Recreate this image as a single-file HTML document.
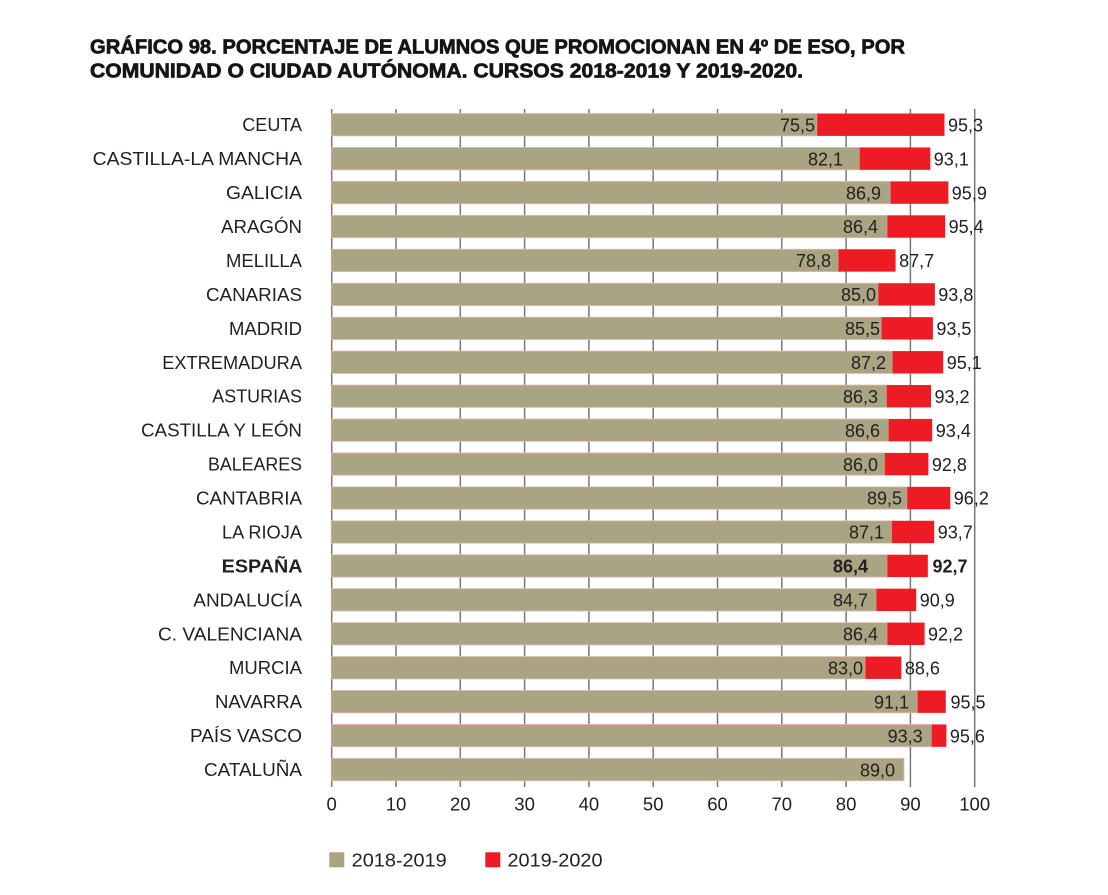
<!DOCTYPE html>
<html><head><meta charset="utf-8">
<style>
html,body{margin:0;padding:0;background:#fff;}
svg{display:block;}
text{font-family:"Liberation Sans",Arial,sans-serif;fill:#231f20;}
.t{font-weight:bold;font-size:20px;fill:#151515;stroke:#151515;stroke-width:0.7;}
.c{font-size:18.5px;text-anchor:end;}
.v{font-size:18px;}
.ve{font-size:18px;text-anchor:end;}
.k{font-size:18.5px;text-anchor:middle;}
.o{fill:#a9a583;stroke:#e9b9b3;stroke-width:0.8;}
.r{fill:#ed1c24;}
.g{stroke:#777;stroke-width:1.5;}
</style></head>
<body>
<svg width="1108" height="895" viewBox="0 0 1108 895" xmlns="http://www.w3.org/2000/svg">
<text class="t" x="90" y="53.5" textLength="815" lengthAdjust="spacingAndGlyphs">GRÁFICO 98. PORCENTAJE DE ALUMNOS QUE PROMOCIONAN EN 4º DE ESO, POR</text>
<text class="t" x="90" y="77.5" textLength="713" lengthAdjust="spacingAndGlyphs">COMUNIDAD O CIUDAD AUTÓNOMA. CURSOS 2018-2019 Y 2019-2020.</text>

<g class="g">
<line x1="331.7" y1="109" x2="331.7" y2="787"/>
<line x1="396" y1="109" x2="396" y2="787"/>
<line x1="460.3" y1="109" x2="460.3" y2="787"/>
<line x1="524.6" y1="109" x2="524.6" y2="787"/>
<line x1="588.9" y1="109" x2="588.9" y2="787"/>
<line x1="653.2" y1="109" x2="653.2" y2="787"/>
<line x1="717.5" y1="109" x2="717.5" y2="787"/>
<line x1="781.8" y1="109" x2="781.8" y2="787"/>
<line x1="846.1" y1="109" x2="846.1" y2="787"/>
<line x1="910.4" y1="109" x2="910.4" y2="787"/>
<line x1="974.7" y1="109" x2="974.7" y2="787"/>
</g>

<g>
<text class="k" x="331.7" y="810.5">0</text>
<text class="k" x="396" y="810.5">10</text>
<text class="k" x="460.3" y="810.5">20</text>
<text class="k" x="524.6" y="810.5">30</text>
<text class="k" x="588.9" y="810.5">40</text>
<text class="k" x="653.2" y="810.5">50</text>
<text class="k" x="717.5" y="810.5">60</text>
<text class="k" x="781.8" y="810.5">70</text>
<text class="k" x="846.1" y="810.5">80</text>
<text class="k" x="910.4" y="810.5">90</text>
<text class="k" x="974.7" y="810.5">100</text>
</g>

<g>
<rect class="o" x="331.7" y="113.5" width="485.5" height="22.4"/><rect class="r" x="817.2" y="113.5" width="127.3" height="22.4"/>
<rect class="o" x="331.7" y="147.44" width="527.9" height="22.4"/><rect class="r" x="859.6" y="147.44" width="70.7" height="22.4"/>
<rect class="o" x="331.7" y="181.38" width="558.8" height="22.4"/><rect class="r" x="890.5" y="181.38" width="57.9" height="22.4"/>
<rect class="o" x="331.7" y="215.32" width="555.6" height="22.4"/><rect class="r" x="887.3" y="215.32" width="57.9" height="22.4"/>
<rect class="o" x="331.7" y="249.26" width="506.7" height="22.4"/><rect class="r" x="838.4" y="249.26" width="57.2" height="22.4"/>
<rect class="o" x="331.7" y="283.2" width="546.6" height="22.4"/><rect class="r" x="878.3" y="283.2" width="56.6" height="22.4"/>
<rect class="o" x="331.7" y="317.14" width="549.8" height="22.4"/><rect class="r" x="881.5" y="317.14" width="51.4" height="22.4"/>
<rect class="o" x="331.7" y="351.08" width="560.7" height="22.4"/><rect class="r" x="892.4" y="351.08" width="50.8" height="22.4"/>
<rect class="o" x="331.7" y="385.02" width="554.9" height="22.4"/><rect class="r" x="886.6" y="385.02" width="44.4" height="22.4"/>
<rect class="o" x="331.7" y="418.96" width="556.8" height="22.4"/><rect class="r" x="888.5" y="418.96" width="43.7" height="22.4"/>
<rect class="o" x="331.7" y="452.9" width="553.0" height="22.4"/><rect class="r" x="884.7" y="452.9" width="43.7" height="22.4"/>
<rect class="o" x="331.7" y="486.84" width="575.5" height="22.4"/><rect class="r" x="907.2" y="486.84" width="43.1" height="22.4"/>
<rect class="o" x="331.7" y="520.78" width="560.1" height="22.4"/><rect class="r" x="891.8" y="520.78" width="42.4" height="22.4"/>
<rect class="o" x="331.7" y="554.72" width="555.6" height="22.4"/><rect class="r" x="887.3" y="554.72" width="40.5" height="22.4"/>
<rect class="o" x="331.7" y="588.66" width="544.6" height="22.4"/><rect class="r" x="876.3" y="588.66" width="39.9" height="22.4"/>
<rect class="o" x="331.7" y="622.6" width="555.6" height="22.4"/><rect class="r" x="887.3" y="622.6" width="37.3" height="22.4"/>
<rect class="o" x="331.7" y="656.54" width="533.7" height="22.4"/><rect class="r" x="865.4" y="656.54" width="36.0" height="22.4"/>
<rect class="o" x="331.7" y="690.48" width="585.8" height="22.4"/><rect class="r" x="917.5" y="690.48" width="28.3" height="22.4"/>
<rect class="o" x="331.7" y="724.42" width="599.9" height="22.4"/><rect class="r" x="931.6" y="724.42" width="14.8" height="22.4"/>
<rect class="o" x="331.7" y="758.36" width="572.3" height="22.4"/>
</g>

<g>
<text class="c" x="302" y="131.2" textLength="59.7" lengthAdjust="spacingAndGlyphs">CEUTA</text>
<text class="c" x="302" y="165.14" textLength="209.3" lengthAdjust="spacingAndGlyphs">CASTILLA-LA MANCHA</text>
<text class="c" x="302" y="199.08" textLength="76" lengthAdjust="spacingAndGlyphs">GALICIA</text>
<text class="c" x="302" y="233.02" textLength="81" lengthAdjust="spacingAndGlyphs">ARAGÓN</text>
<text class="c" x="302" y="266.96" textLength="76" lengthAdjust="spacingAndGlyphs">MELILLA</text>
<text class="c" x="302" y="300.9" textLength="96" lengthAdjust="spacingAndGlyphs">CANARIAS</text>
<text class="c" x="302" y="334.84" textLength="73" lengthAdjust="spacingAndGlyphs">MADRID</text>
<text class="c" x="302" y="368.78" textLength="139.8" lengthAdjust="spacingAndGlyphs">EXTREMADURA</text>
<text class="c" x="302" y="402.72" textLength="89.7" lengthAdjust="spacingAndGlyphs">ASTURIAS</text>
<text class="c" x="302" y="436.66" textLength="161" lengthAdjust="spacingAndGlyphs">CASTILLA Y LEÓN</text>
<text class="c" x="302" y="470.6" textLength="94" lengthAdjust="spacingAndGlyphs">BALEARES</text>
<text class="c" x="302" y="504.54" textLength="106" lengthAdjust="spacingAndGlyphs">CANTABRIA</text>
<text class="c" x="302" y="538.48" textLength="80" lengthAdjust="spacingAndGlyphs">LA RIOJA</text>
<text class="c" x="302.5" y="572.42" textLength="80.8" lengthAdjust="spacingAndGlyphs" style="font-weight:bold">ESPAÑA</text>
<text class="c" x="302" y="606.36" textLength="108.7" lengthAdjust="spacingAndGlyphs">ANDALUCÍA</text>
<text class="c" x="302" y="640.3" textLength="144" lengthAdjust="spacingAndGlyphs">C. VALENCIANA</text>
<text class="c" x="302" y="674.24" textLength="73" lengthAdjust="spacingAndGlyphs">MURCIA</text>
<text class="c" x="302" y="708.18" textLength="87" lengthAdjust="spacingAndGlyphs">NAVARRA</text>
<text class="c" x="302" y="742.12" textLength="112" lengthAdjust="spacingAndGlyphs">PAÍS VASCO</text>
<text class="c" x="302" y="776.06" textLength="98" lengthAdjust="spacingAndGlyphs">CATALUÑA</text>
</g>

<g>
<text class="ve" x="815" y="131.4">75,5</text>
<text class="ve" x="843" y="165.34">82,1</text>
<text class="ve" x="881" y="199.28">86,9</text>
<text class="ve" x="878" y="233.22">86,4</text>
<text class="ve" x="831" y="267.16">78,8</text>
<text class="ve" x="876" y="301.1">85,0</text>
<text class="ve" x="880" y="335.04">85,5</text>
<text class="ve" x="886" y="368.98">87,2</text>
<text class="ve" x="878" y="402.92">86,3</text>
<text class="ve" x="880" y="436.86">86,6</text>
<text class="ve" x="878" y="470.8">86,0</text>
<text class="ve" x="902" y="504.74">89,5</text>
<text class="ve" x="884" y="538.68">87,1</text>
<text class="ve" x="868" y="572.62" style="font-weight:bold">86,4</text>
<text class="ve" x="868" y="606.56">84,7</text>
<text class="ve" x="878" y="640.5">86,4</text>
<text class="ve" x="863" y="674.44">83,0</text>
<text class="ve" x="909" y="708.38">91,1</text>
<text class="ve" x="922.7" y="742.32">93,3</text>
<text class="ve" x="895" y="776.26">89,0</text>
</g>

<g>
<text class="v" x="948" y="131.4">95,3</text>
<text class="v" x="933.8" y="165.34">93,1</text>
<text class="v" x="951.8" y="199.28">95,9</text>
<text class="v" x="948.6" y="233.22">95,4</text>
<text class="v" x="899.1" y="267.16">87,7</text>
<text class="v" x="938.3" y="301.1">93,8</text>
<text class="v" x="936.4" y="335.04">93,5</text>
<text class="v" x="946.7" y="368.98">95,1</text>
<text class="v" x="934.5" y="402.92">93,2</text>
<text class="v" x="935.8" y="436.86">93,4</text>
<text class="v" x="931.9" y="470.8">92,8</text>
<text class="v" x="953.8" y="504.74">96,2</text>
<text class="v" x="937.7" y="538.68">93,7</text>
<text class="v" x="932.5" y="572.62" style="font-weight:bold">92,7</text>
<text class="v" x="919.7" y="606.56">90,9</text>
<text class="v" x="928" y="640.5">92,2</text>
<text class="v" x="904.9" y="674.44">88,6</text>
<text class="v" x="950.5" y="708.38">95,5</text>
<text class="v" x="949.9" y="742.32">95,6</text>
</g>

<rect x="329.3" y="852.3" width="15" height="15" fill="#a9a583"/>
<text x="351.7" y="866.5" style="font-size:18.5px" textLength="95" lengthAdjust="spacingAndGlyphs">2018-2019</text>
<rect x="485.3" y="852.3" width="15" height="15" fill="#ed1c24"/>
<text x="507.5" y="866.5" style="font-size:18.5px" textLength="95" lengthAdjust="spacingAndGlyphs">2019-2020</text>
</svg>
</body></html>
